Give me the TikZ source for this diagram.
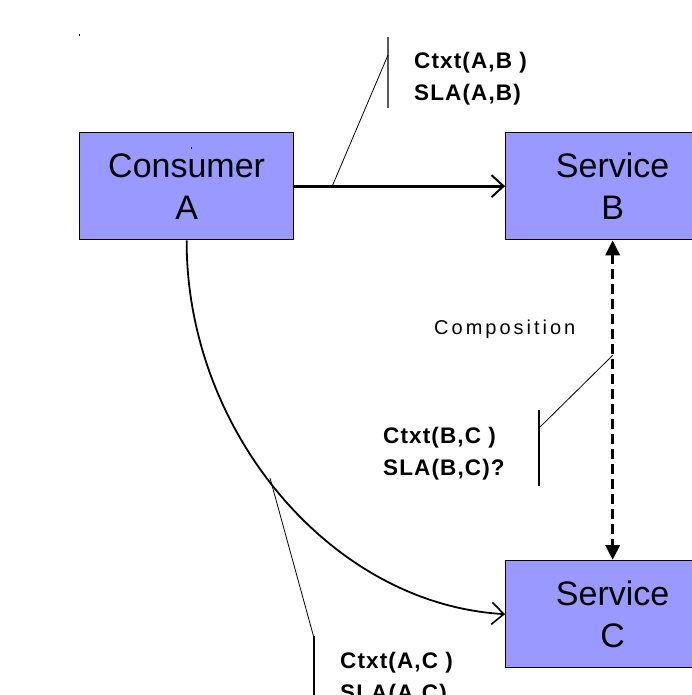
\documentclass[tikz,border=0pt]{standalone}
\usepackage{fontspec}
\setmainfont{Liberation Sans}
\usetikzlibrary{arrows.meta}
\tikzset{
  box/.style={draw=black, line width=1.3pt, fill=boxblue, minimum width=214pt, minimum height=107pt,
    inner sep=0pt, align=center, font=\fontsize{34}{42}\selectfont, anchor=north west},
  tag/.style={font=\fontsize{22.5}{32}\selectfont\bfseries\addfontfeature{LetterSpace=5}, align=left, anchor=north west, inner sep=0pt},
  flow/.style={line width=3pt, -{Straight Barb[length=12pt, width=22pt, line width=2pt]}},
  pointer/.style={line width=0.8pt},
  compose/.style={line width=3.5pt, dash pattern=on 10pt off 5pt, {Triangle[length=15pt, width=14pt]}-{Triangle[length=15pt, width=14pt]}}
}
\definecolor{boxblue}{RGB}{153,153,255}
\begin{document}
\begin{tikzpicture}[x=1pt, y=-1pt]
  \useasboundingbox (0,0) rectangle (692,695);
  \begin{scope}
    \clip (0,0) rectangle (692,695);
    % blocks
    \node[box] (A) at (79,132) {Consumer\\A};
    \node[box] (B) at (505,132) {Service\\B};
    \node[box] (C) at (505,560) {Service\\C};

    % call from the consumer to service B
    \draw[flow] (A.east) -- (B.west) coordinate[pos=0.18] (abpt);

    % composition between B and C
    \draw[compose] (B.south) -- (C.north) coordinate[pos=0.36] (bcpt);
    \node[font=\fontsize{20}{24}\selectfont\addfontfeature{LetterSpace=15}, anchor=west, inner sep=0pt] (comp) at (434,329) {Composition};

    % call from the consumer to service C
    \draw[line width=1.8pt, -{Straight Barb[length=12pt, width=22pt, line width=1.6pt]}]
      (A.south) .. controls (186,430) and (330,604) .. (C.west);
    \coordinate (acpt) at (270,478);

    % annotation of A -> B
    \coordinate (abbar) at (388,55);
    \draw[gray!70!black, line width=1.5pt] (388,37) -- (388,108);
    \draw[pointer] (abpt) -- (abbar);
    \node[tag] (ab) at (414,52) {Ctxt(A,B )\\SLA(A,B)};

    % annotation of B -> C
    \coordinate (bcbar) at (539,428);
    \draw[line width=2pt] (539,410) -- (539,486);
    \draw[pointer] (bcpt) -- (bcbar);
    \node[tag] (bc) at (383,427) {Ctxt(B,C )\\SLA(B,C)?};

    % annotation of A -> C
    \coordinate (acbar) at (314,638);
    \draw[line width=1.5pt] (314,636) -- (314,700);
    \draw[pointer] (acpt) -- (acbar);
    \node[tag] (ac) at (340,652) {Ctxt(A,C )\\SLA(A,C)};

    % stray marks
    \fill (78.5,34.5) rectangle (80,36);
    \fill (190.5,147.5) rectangle (192,149);
  \end{scope}
\end{tikzpicture}
\end{document}
